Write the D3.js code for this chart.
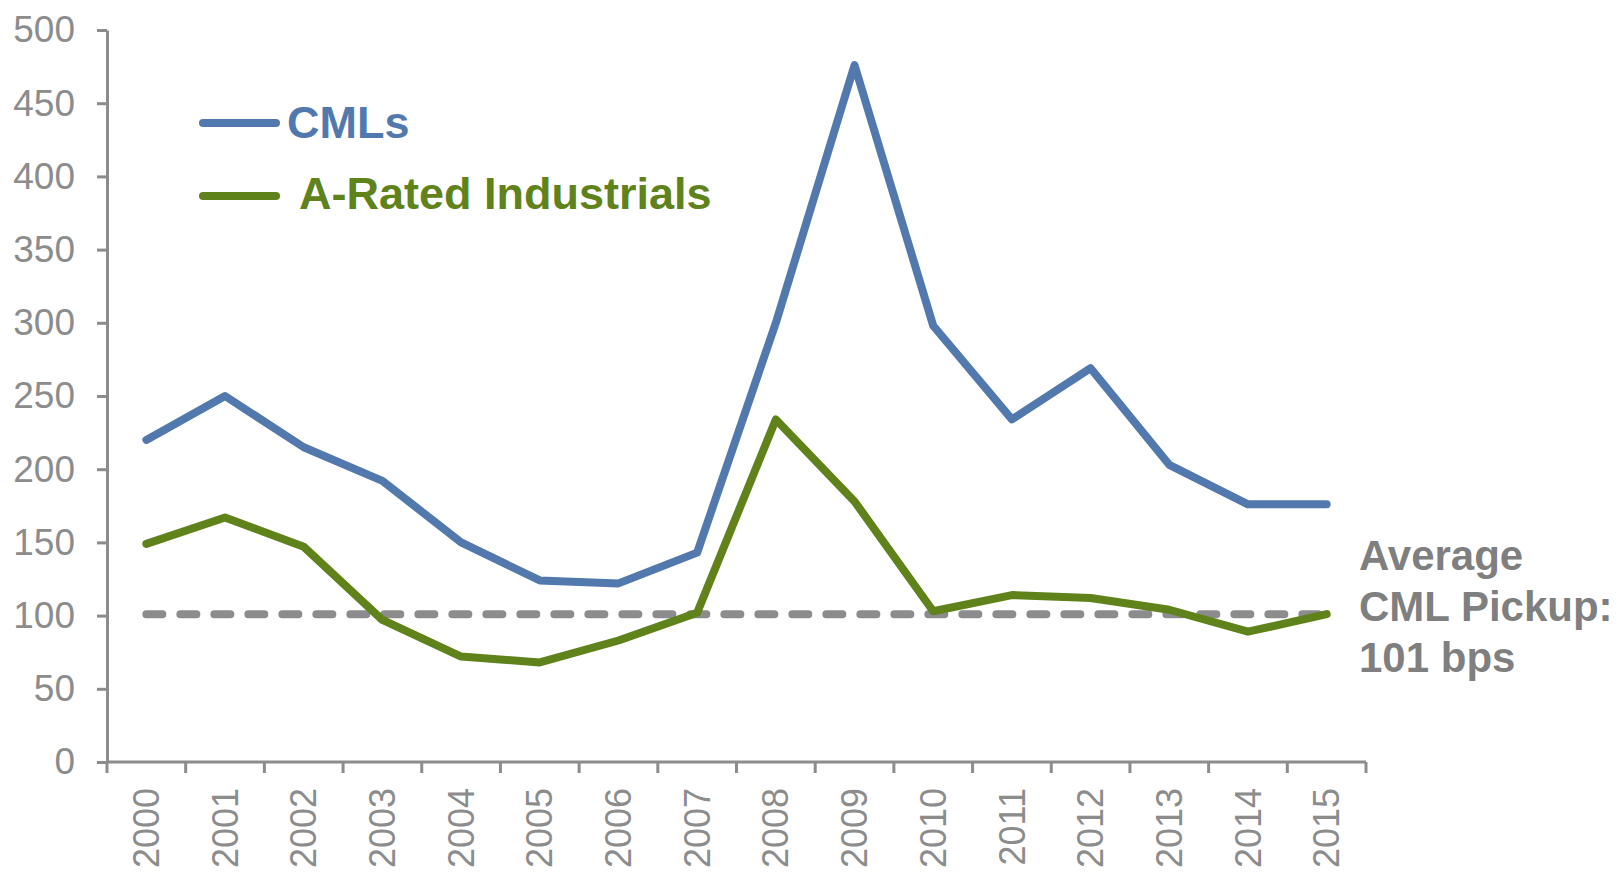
<!DOCTYPE html>
<html>
<head>
<meta charset="utf-8">
<script src="https://cdn.jsdelivr.net/npm/d3@7"></script>
<style>
  body { margin: 0; background: #fff; }
  svg { display: block; font-family: "Liberation Sans", Arial, sans-serif; }
</style>
</head>
<body>
<svg id="chart" width="1620" height="872"></svg>
<script>
var years = ["2000","2001","2002","2003","2004","2005","2006","2007","2008","2009","2010","2011","2012","2013","2014","2015"];
var cmls = [220, 250, 215, 192, 150, 124, 122, 143, 300, 476, 298, 234, 269, 203, 176, 176];
var industrials = [149, 167, 147, 97, 72, 68, 83, 102, 234, 178, 103, 114, 112, 104, 89, 101];
var avgPickup = 101;
var yTicks = [0, 50, 100, 150, 200, 250, 300, 350, 400, 450, 500];
var legendNames = ["CMLs", "A-Rated Industrials"];
var noteLines = ["Average", "CML Pickup:", "101 bps"];

var blue = "#5279ad", green = "#5f821a", grey = "#8c8c8c", noteGrey = "#7f7f7f";

var svg = d3.select("#chart");

var x = d3.scalePoint().domain(years).range([107, 1366]).padding(0.5);
var y = d3.scaleLinear().domain([0, 500]).range([762, 30]);

// y axis
var yAxis = svg.append("g")
  .attr("transform", "translate(107,0)")
  .call(d3.axisLeft(y).tickValues(yTicks).tickSize(10).tickSizeOuter(0).tickPadding(22));
yAxis.select(".domain").attr("stroke", grey).attr("stroke-width", 3);
yAxis.selectAll(".tick line").attr("stroke", grey).attr("stroke-width", 3);
yAxis.selectAll(".tick text")
  .attr("fill", grey)
  .style("font-size", "37px")
  .style("font-family", "'Liberation Sans', Arial, sans-serif");

// x axis line + ticks at category boundaries
svg.append("line")
  .attr("x1", 107).attr("x2", 1366)
  .attr("y1", y(0)).attr("y2", y(0))
  .attr("stroke", grey).attr("stroke-width", 3);

var step = x.step();
var bounds = years.map(function(d){ return x(d) - step / 2; });
bounds.push(x(years[years.length - 1]) + step / 2);
svg.selectAll(".xtick")
  .data(bounds)
  .enter()
  .append("line")
  .attr("class", "xtick")
  .attr("x1", function(d){ return d; })
  .attr("x2", function(d){ return d; })
  .attr("y1", y(0))
  .attr("y2", y(0) + 11)
  .attr("stroke", grey)
  .attr("stroke-width", 3);

svg.selectAll(".xlabel")
  .data(years)
  .enter()
  .append("text")
  .attr("class", "xlabel")
  .attr("transform", function(d){ return "translate(" + x(d) + ",788) rotate(-90)"; })
  .attr("text-anchor", "end")
  .attr("dy", "0.35em")
  .attr("fill", grey)
  .style("font-size", "36px")
  .text(function(d){ return d; });

// average line
svg.append("line")
  .attr("x1", x(years[0]))
  .attr("x2", x(years[years.length - 1]))
  .attr("y1", y(avgPickup))
  .attr("y2", y(avgPickup))
  .attr("stroke", grey)
  .attr("stroke-width", 8)
  .attr("stroke-linecap", "round")
  .attr("stroke-dasharray", "16,18");

var line = d3.line()
  .x(function(d, i){ return x(years[i]); })
  .y(function(d){ return y(d); });

svg.append("path")
  .datum(industrials)
  .attr("d", line)
  .attr("fill", "none")
  .attr("stroke", green)
  .attr("stroke-width", 8)
  .attr("stroke-linejoin", "round")
  .attr("stroke-linecap", "round");

svg.append("path")
  .datum(cmls)
  .attr("d", line)
  .attr("fill", "none")
  .attr("stroke", blue)
  .attr("stroke-width", 8)
  .attr("stroke-linejoin", "round")
  .attr("stroke-linecap", "round");

// legend
var legend = [
  {name: legendNames[0], color: blue, ly: 123, tx: 287, ty: 138},
  {name: legendNames[1], color: green, ly: 196, tx: 299, ty: 209}
];
legend.forEach(function(l){
  svg.append("line")
    .attr("x1", 203).attr("x2", 276)
    .attr("y1", l.ly).attr("y2", l.ly)
    .attr("stroke", l.color)
    .attr("stroke-width", 8)
    .attr("stroke-linecap", "round");
  svg.append("text")
    .attr("x", l.tx).attr("y", l.ty)
    .attr("fill", l.color)
    .style("font-size", "45px")
    .style("font-weight", "bold")
    .text(l.name);
});

// note
svg.append("g").selectAll("text")
  .data(noteLines)
  .enter()
  .append("text")
  .attr("x", 1359)
  .attr("y", function(d, i){ return 570 + i * 51; })
  .attr("fill", noteGrey)
  .style("font-size", "42px")
  .style("font-weight", "bold")
  .text(function(d){ return d; });
</script>
</body>
</html>
